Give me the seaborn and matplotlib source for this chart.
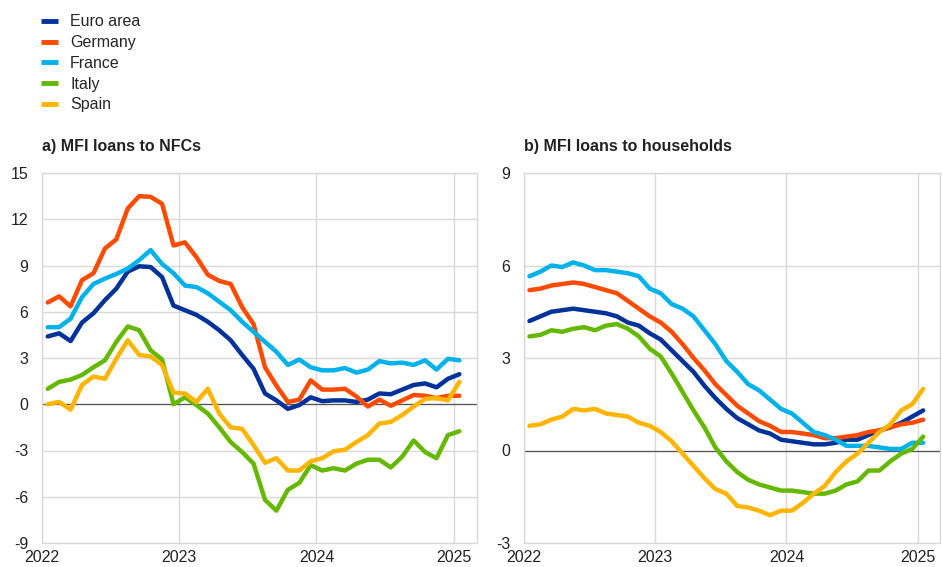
import matplotlib
matplotlib.use("Agg")
import matplotlib.pyplot as plt
import numpy as np
import pandas as pd
import seaborn as sns

# monthly annual growth rates, Jan 2022 - Jan 2025
months = pd.date_range("2022-01-01", "2025-01-01", freq="MS")
countries = ["Euro area", "Germany", "France", "Italy", "Spain"]
colors = ["#003299", "#ff4b00", "#00b1ea", "#65b800", "#ffb400"]

nfc_euro = [4.4, 4.6, 4.1, 5.3, 5.9, 6.75, 7.5, 8.6, 8.95, 8.9, 8.25, 6.4, 6.1, 5.8, 5.35, 4.8,
            4.15, 3.2, 2.3, 0.7, 0.25, -0.3, -0.05, 0.45, 0.2, 0.25, 0.25, 0.15, 0.3, 0.7,
            0.65, 0.95, 1.25, 1.35, 1.1, 1.65, 1.95]
nfc_germany = [6.6, 7.0, 6.35, 8.05, 8.5, 10.1, 10.7, 12.7, 13.5, 13.45, 13.0, 10.3, 10.5, 9.55,
               8.4, 8.0, 7.8, 6.3, 5.2, 2.4, 1.2, 0.15, 0.3, 1.55, 0.95, 0.95, 1.0, 0.5, -0.15,
               0.3, -0.1, 0.25, 0.6, 0.55, 0.4, 0.55, 0.55]
nfc_france = [5.0, 5.0, 5.55, 6.95, 7.8, 8.15, 8.45, 8.8, 9.35, 10.0, 9.1, 8.5, 7.7, 7.6, 7.2,
              6.65, 6.1, 5.35, 4.7, 4.05, 3.4, 2.55, 2.9, 2.4, 2.2, 2.2, 2.35, 2.05, 2.25, 2.8,
              2.65, 2.7, 2.55, 2.85, 2.25, 2.95, 2.85]
nfc_italy = [1.0, 1.45, 1.6, 1.9, 2.4, 2.85, 4.05, 5.05, 4.8, 3.5, 2.9, 0.0, 0.45, -0.05, -0.6,
             -1.5, -2.45, -3.1, -3.85, -6.2, -6.9, -5.55, -5.1, -3.95, -4.3, -4.15, -4.3,
             -3.85, -3.6, -3.6, -4.1, -3.4, -2.35, -3.1, -3.5, -2.0, -1.75]
nfc_spain = [0.0, 0.15, -0.35, 1.25, 1.8, 1.65, 2.95, 4.15, 3.2, 3.1, 2.55, 0.75, 0.7, 0.15,
             1.0, -0.6, -1.5, -1.6, -2.65, -3.8, -3.5, -4.3, -4.3, -3.7, -3.5, -3.05, -2.95,
             -2.45, -2.0, -1.25, -1.15, -0.7, -0.15, 0.35, 0.4, 0.25, 1.45]

hh_euro = [4.2, 4.35, 4.5, 4.55, 4.6, 4.55, 4.5, 4.45, 4.35, 4.15, 4.05, 3.8, 3.6, 3.25, 2.9,
           2.55, 2.1, 1.7, 1.35, 1.05, 0.85, 0.65, 0.55, 0.35, 0.3, 0.25, 0.2, 0.2, 0.25, 0.35,
           0.35, 0.5, 0.65, 0.75, 0.9, 1.1, 1.3]
hh_germany = [5.2, 5.25, 5.35, 5.4, 5.45, 5.4, 5.3, 5.2, 5.1, 4.85, 4.6, 4.35, 4.15, 3.85, 3.45,
              3.0, 2.6, 2.15, 1.8, 1.45, 1.2, 0.95, 0.8, 0.6, 0.6, 0.55, 0.5, 0.4, 0.4, 0.45,
              0.5, 0.6, 0.65, 0.75, 0.85, 0.9, 1.0]
hh_france = [5.65, 5.8, 6.0, 5.95, 6.1, 6.0, 5.85, 5.85, 5.8, 5.75, 5.65, 5.25, 5.1, 4.75, 4.6,
             4.35, 3.9, 3.45, 2.9, 2.55, 2.15, 1.95, 1.65, 1.35, 1.2, 0.9, 0.6, 0.5, 0.35, 0.15,
             0.15, 0.15, 0.1, 0.05, 0.05, 0.25, 0.25]
hh_italy = [3.7, 3.75, 3.9, 3.85, 3.95, 4.0, 3.9, 4.05, 4.1, 3.95, 3.7, 3.3, 3.05, 2.5, 1.9, 1.3,
            0.75, 0.1, -0.35, -0.7, -0.95, -1.1, -1.2, -1.3, -1.3, -1.35, -1.4, -1.4, -1.3,
            -1.1, -1.0, -0.65, -0.65, -0.35, -0.1, 0.05, 0.45]
hh_spain = [0.8, 0.85, 1.0, 1.1, 1.35, 1.3, 1.35, 1.2, 1.15, 1.1, 0.9, 0.8, 0.6, 0.3, -0.1, -0.5,
            -0.9, -1.25, -1.4, -1.8, -1.85, -1.95, -2.1, -1.95, -1.95, -1.7, -1.4, -1.15,
            -0.7, -0.35, -0.1, 0.25, 0.6, 0.85, 1.3, 1.5, 2.0]

nfc_yticks = [15, 12, 9, 6, 3, 0, -3, -6, -9]
hh_yticks = [9, 6, 3, 0, -3]
year_ticks = [2022, 2023, 2024, 2025]

sns.set_theme(style="whitegrid")
plt.rcParams["font.family"] = ["Liberation Sans", "DejaVu Sans"]
plt.rcParams["font.size"] = 11
plt.rcParams["axes.unicode_minus"] = False

# months placed at mid-month on a decimal-year axis
x_years = 2022 + (np.arange(len(months)) + 0.5) / 12


def long_frame(series):
    rows = []
    for name, vals in zip(countries, series):
        rows.append(pd.DataFrame({"year": x_years, "value": vals, "country": name}))
    return pd.concat(rows, ignore_index=True)


def draw_panel(ax, df, yticks, title):
    sns.lineplot(data=df, x="year", y="value", hue="country", hue_order=countries,
                 palette=colors, linewidth=3.2, ax=ax, legend=False)
    ax.axhline(0, color="#555555", linewidth=0.9, zorder=1)
    ax.set_xlim(2022, 2025.17)
    ax.set_ylim(min(yticks), max(yticks))
    ax.set_yticks(yticks)
    ax.set_yticklabels([str(t) for t in yticks])
    ax.set_xticks(year_ticks)
    ax.set_xticklabels([str(y) for y in year_ticks])
    ax.set_xlabel("")
    ax.set_ylabel("")
    ax.grid(True, color="#d9d9d9", linewidth=1.0)
    for s in ax.spines.values():
        s.set_color("#d9d9d9")
        s.set_linewidth(1.0)
    ax.tick_params(axis="both", length=0, labelsize=11.5, colors="#222222")
    ax.tick_params(axis="y", pad=10)
    ax.tick_params(axis="x", pad=5)
    ax.text(0.0, 1.05, title, transform=ax.transAxes, fontsize=11.5, fontweight="bold",
            ha="left", va="bottom", color="#222222")


fig = plt.figure(figsize=(9.42, 5.67), dpi=100)
ax1 = fig.add_axes([42 / 942, 1 - 543 / 567, 435 / 942, 370 / 567])
ax2 = fig.add_axes([524 / 942, 1 - 543 / 567, 416 / 942, 370 / 567])

draw_panel(ax1, long_frame([nfc_euro, nfc_germany, nfc_france, nfc_italy, nfc_spain]),
           nfc_yticks, "a) MFI loans to NFCs")
draw_panel(ax2, long_frame([hh_euro, hh_germany, hh_france, hh_italy, hh_spain]),
           hh_yticks, "b) MFI loans to households")

handles = [plt.Line2D([], [], color=c, linewidth=3.5, solid_capstyle="butt") for c in colors]
fig.legend(handles, countries, loc="upper left", bbox_to_anchor=(35 / 942, 1 - 8 / 567),
           frameon=False, fontsize=11.5, handlelength=1.05, handletextpad=0.75,
           labelspacing=0.36, borderaxespad=0)

fig.savefig("out.png", dpi=100)
